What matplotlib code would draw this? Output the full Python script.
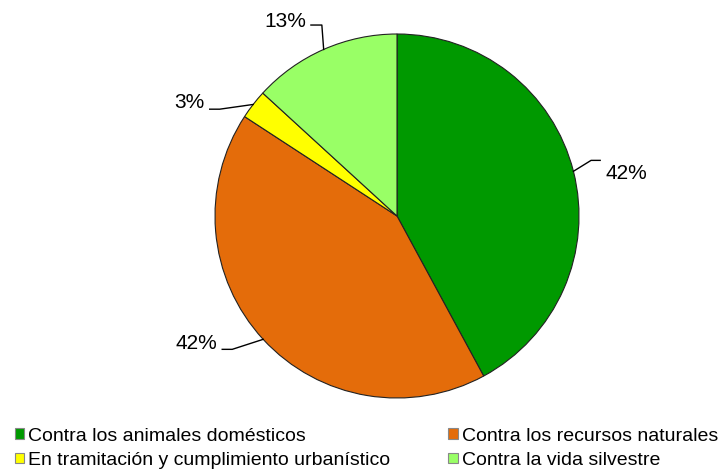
import numpy as np
import matplotlib.pyplot as plt

plt.rcParams['font.family'] = ['Liberation Sans', 'DejaVu Sans']

# Share of cases per category (clockwise from top)
categories = ['Contra los animales domésticos', 'Contra los recursos naturales',
              'En tramitación y cumplimiento urbanístico', 'Contra la vida silvestre']
values = [42.1, 42.1, 2.6, 13.2]
colors = ['#009900', '#E46C0A', '#FFFF00', '#99FF66']

# leader line elbow offsets / label offsets (data units, radius = 1)
elbow_off = [(0.097, 0.06), (-0.17, -0.055), (-0.184, -0.026), (-0.01, 0.134)]
tail_len = [0.05, -0.055, -0.055, -0.06]
text_off = [(0.03, -0.07), (-0.027, 0.033), (-0.027, 0.035), (-0.027, 0.018)]

fig = plt.figure(figsize=(7.2, 4.7), dpi=100)
ax = fig.add_axes([0, 0, 1, 1])
r_px = 182
cx, cy = 397, 216

wedges, _ = ax.pie(values, colors=colors, startangle=90, counterclock=False,
                   radius=1, wedgeprops=dict(edgecolor='#222222', linewidth=0.8))
ax.set_xlim(-cx / r_px, (720 - cx) / r_px)
ax.set_ylim(-(470 - cy) / r_px, cy / r_px)
ax.set_aspect('equal')
ax.axis('off')

for i, w in enumerate(wedges):
    ang = np.deg2rad((w.theta1 + w.theta2) / 2)
    ex, ey = np.cos(ang), np.sin(ang)
    bx, by = ex + elbow_off[i][0], ey + elbow_off[i][1]
    tx = bx + tail_len[i]
    ax.plot([ex, bx, tx], [ey, by, by], color='black', lw=1.0)
    ha = 'left' if tail_len[i] > 0 else 'right'
    ax.text(tx + text_off[i][0], by + text_off[i][1], f'{values[i]:.0f}%',
            ha=ha, va='center', fontsize=15)

order = [0, 2, 1, 3]
leg = fig.legend([wedges[i] for i in order], [categories[i] for i in order],
                 ncol=2, loc='lower left', bbox_to_anchor=(15 / 720, 0.002),
                 frameon=False, fontsize=14, handlelength=0.47, handleheight=0.47,
                 handletextpad=0.2, labelspacing=0.38, columnspacing=3.0,
                 borderaxespad=0.0, borderpad=0.0)
for h in leg.legend_handles:
    h.set_edgecolor('#888888')
    h.set_linewidth(0.8)

fig.savefig('out.png', dpi=100)
